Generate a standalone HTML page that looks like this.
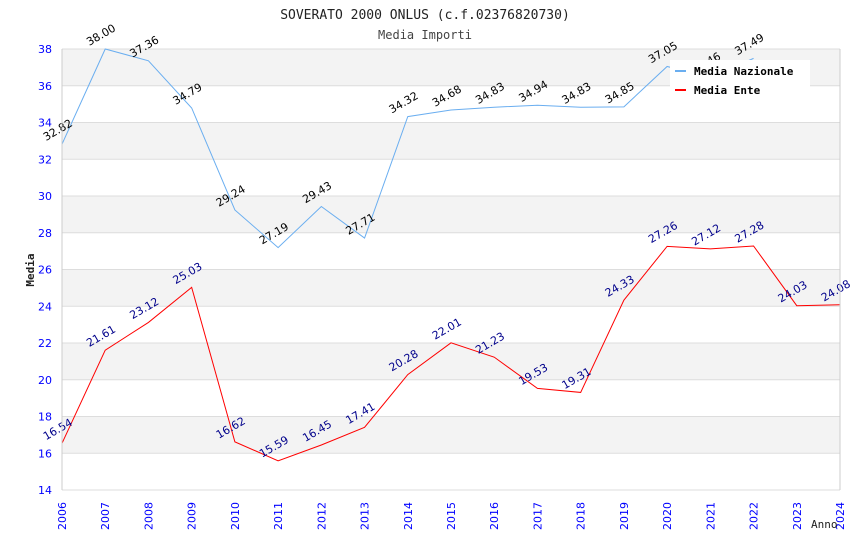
<!DOCTYPE html>
<html><head><meta charset="utf-8"><style>
body{margin:0;background:#fff}
svg text{font-family:"DejaVu Sans","Liberation Sans",sans-serif}
.mono{font-family:"DejaVu Sans Mono","Liberation Mono",monospace}
</style></head><body>
<svg id="chart" width="850" height="550">
<text class="mono" x="425" y="19" text-anchor="middle" font-size="13" fill="#222">SOVERATO 2000 ONLUS (c.f.02376820730)</text>
<text class="mono" x="425" y="39" text-anchor="middle" font-size="12" fill="#444">Media Importi</text>
<g id="grid"></g><g id="series"></g><g id="axes"></g>
<text class="mono" transform="translate(34,270) rotate(-90)" text-anchor="middle" font-size="11" font-weight="bold" fill="#222">Media</text>
<text class="mono" x="811" y="528" font-size="11" fill="#222">Anno</text>
<g>
<rect x="670" y="60" width="140" height="43" fill="#fff"/>
<g><rect x="675" y="70" width="11" height="2" fill="#6aaef0"/><text class="mono" x="694" y="75" font-size="11" font-weight="bold" fill="#000">Media Nazionale</text></g>
<g><rect x="675" y="89" width="11" height="2" fill="#f00"/><text class="mono" x="694" y="94" font-size="11" font-weight="bold" fill="#000">Media Ente</text></g>
</g>
</svg>
<script>
const years=[2006,2007,2008,2009,2010,2011,2012,2013,2014,2015,2016,2017,2018,2019,2020,2021,2022,2023,2024];
const nazionale=[32.82,38.00,37.36,34.79,29.24,27.19,29.43,27.71,34.32,34.68,34.83,34.94,34.83,34.85,37.05,36.46,37.49];
const ente=[16.54,21.61,23.12,25.03,16.62,15.59,16.45,17.41,20.28,22.01,21.23,19.53,19.31,24.33,27.26,27.12,27.28,24.03,24.08];
const yTicks=[14,16,18,20,22,24,26,28,30,32,34,36,38];
const X0=62,X1=840,Y0=490,Y1=49,ymin=14,ymax=38;
const xs=i=>X0+(X1-X0)*i/(years.length-1);
const ys=v=>Y0-(v-ymin)/(ymax-ymin)*(Y0-Y1);
const NS="http://www.w3.org/2000/svg";
function mk(t,a,p){const e=document.createElementNS(NS,t);for(const k in a)e.setAttribute(k,a[k]);p.appendChild(e);return e;}
const grid=document.getElementById('grid'),axes=document.getElementById('axes'),ser=document.getElementById('series');
for(let k=0;k<yTicks.length-1;k++){
 if(k%2==1){const r=mk('rect',{x:X0,y:ys(yTicks[k+1]),width:X1-X0,height:ys(yTicks[k])-ys(yTicks[k+1]),fill:'#f3f3f3'},grid);
 
 }
}
yTicks.forEach(v=>{
 const l=mk('line',{x1:X0,x2:X1,y1:ys(v),y2:ys(v),stroke:'#ddd'},grid);
 
 
 const t=mk('text',{x:X0-10,y:ys(v)+4,'text-anchor':'end','font-size':11,fill:'#00f'},axes);
 t.textContent=v;
 
 
});
mk('line',{x1:X0,x2:X0,y1:Y1,y2:Y0,stroke:'#ccc'},axes);
mk('line',{x1:X1,x2:X1,y1:Y1,y2:Y0,stroke:'#ccc'},axes);
years.forEach((y,i)=>{
 const t=mk('text',{transform:`translate(${xs(i)+4},${Y0+40}) rotate(-90)`,'font-size':11,fill:'#00f'},axes);
 t.textContent=y;
 
 
});
function series(vals,color,lc,name){
 const p=mk('polyline',{points:vals.map((v,i)=>xs(i)+','+ys(v)).join(' '),fill:'none',stroke:color,'stroke-width':1},ser);
 
 
 vals.forEach((v,i)=>{
  const t=mk('text',{transform:`translate(${xs(i)-16},${ys(v)-3}) rotate(-30)`,'font-size':11,fill:lc},ser);
  t.textContent=v.toFixed(2);
  
  
 });
}
series(nazionale,'#6aaef0','#000','nazionale');
series(ente,'#f00','#00008b','ente');
</script>
</body></html>
